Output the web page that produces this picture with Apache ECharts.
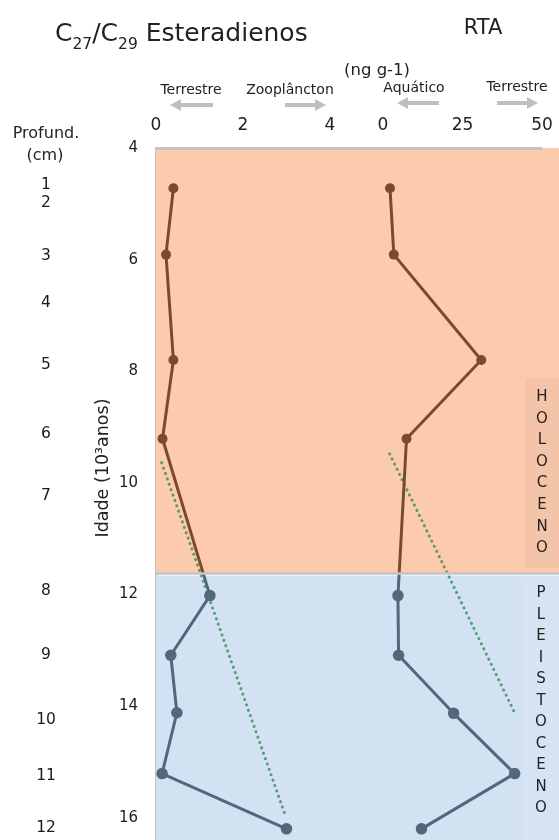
<!DOCTYPE html>
<html><head><meta charset="utf-8">
<script src="https://cdn.jsdelivr.net/npm/echarts@6/dist/echarts.min.js"></script>
<style>html,body{margin:0;padding:0;background:#fff}#c{width:559px;height:840px}</style>
</head><body><div id="c"></div>
<script>
// ---- data ----
const ageC27 = [4.72, 5.91, 7.80, 9.21, 12.02, 13.09, 14.12, 15.21, 16.20];
const ratioC27C29 = [0.40, 0.23, 0.40, 0.15, 1.24, 0.34, 0.48, 0.14, 3.00];
const ageRta = [4.72, 5.91, 7.80, 9.21, 12.02, 13.09, 14.13, 15.21, 16.20];
const rtaValues = [2.2, 3.4, 30.9, 7.4, 4.7, 4.9, 22.2, 41.4, 12.1];
const trendC27Age = [9.64, 15.91];
const trendC27Val = [0.13, 2.95];
const trendRtaAge = [9.48, 14.12];
const trendRtaVal = [2.1, 41.4];
const depthLabels = ['1','2','3','4','5','6','7','8','9','10','11','12'];
const depthAge = [4.67, 4.98, 5.94, 6.77, 7.88, 9.13, 10.24, 11.94, 13.09, 14.25, 15.25, 16.18];
const holoceneEnd = 11.62;
const epochLabels = ['HOLOCENO', 'PLEISTOCENO'];
const ratioTickStep = 2, rtaTickStep = 25, ageTickStep = 2;

// ---- style ----
const BROWN = '#7a4a2d', SLATE = '#55657a';
const ORANGE = '#fccbad', BLUE = '#d3e2f3';
const AX = '#c2c2c2';
const TXT = '#222';
const FONT = 'DejaVu Sans, sans-serif';
const AGE_MIN = 4, AGE_MAX = 16.4;

const pair = (xs, ys) => xs.map((v, i) => [v, ys[i]]);

function ageAxis(idx, show) {
  return {
    gridIndex: idx, type: 'value', inverse: true, min: AGE_MIN, max: AGE_MAX, interval: ageTickStep,
    show: show,
    axisLine: { show: show, lineStyle: { color: AX, width: 2 } },
    axisTick: { show: show, inside: true, length: 5, lineStyle: { color: '#cfcfcf' } },
    axisLabel: { show: show, margin: 18, color: TXT, fontSize: 15, fontFamily: FONT, showMaxLabel: false,
      formatter: v => (v % ageTickStep === 0 ? String(v) : '') },
    splitLine: { show: false }
  };
}
function topAxis(idx, min, max, step, showMax) {
  return {
    gridIndex: idx, type: 'value', position: 'top', min: min, max: max, interval: step,
    axisLine: { show: false },
    axisTick: { show: true, inside: true, length: 4, lineStyle: { color: AX, width: 1 } },
    axisLabel: { margin: 14, color: TXT, fontSize: 17, fontFamily: FONT, showMinLabel: true, showMaxLabel: showMax,
      formatter: v => (Math.abs(v % step) < 1e-9 ? String(v) : '') },
    splitLine: { show: false }
  };
}
function vertical(word) { return word.split('').join('\n'); }
function splitGradient(ages) {
  const lo = Math.min.apply(null, ages), hi = Math.max.apply(null, ages);
  const f = (holoceneEnd - lo) / (hi - lo);
  return new echarts.graphic.LinearGradient(0, 0, 0, 1, [
    { offset: 0, color: BROWN }, { offset: f, color: BROWN },
    { offset: f, color: SLATE }, { offset: 1, color: SLATE }
  ]);
}
const pointColor = p => (p.value[1] < holoceneEnd ? BROWN : SLATE);
const pointSize = v => (v[1] < holoceneEnd ? 10 : 11.5);

function arrow(tail, tip, y) {
  const dir = tip > tail ? 1 : -1;
  const hl = 11, hw = 6;
  return [
    { type: 'line', shape: { x1: tail, y1: y, x2: tip - dir * hl, y2: y }, style: { stroke: '#bfbfbf', lineWidth: 4 } },
    { type: 'polygon', shape: { points: [[tip, y], [tip - dir * hl, y - hw], [tip - dir * hl, y + hw]] }, style: { fill: '#bfbfbf' } }
  ];
}
function label(text, x, y, size) {
  return { type: 'text', x: x, y: y, style: { text: text, fill: TXT, fontSize: size, fontFamily: FONT,
    align: 'center', verticalAlign: 'middle' } };
}
const trendStyle = { color: 'rgba(40,135,80,0.75)', width: 3, type: [0.1, 5.6], cap: 'round' };

const chart = echarts.init(document.getElementById('c'), null, { renderer: 'canvas' });
chart.setOption({
  animation: false,
  backgroundColor: '#fff',
  grid: [
    { left: 156, right: 0, top: 148, bottom: 0 },      // background
    { left: 156, width: 174, top: 148, bottom: 0 },     // C27/C29
    { left: 383, right: 0, top: 148, bottom: 0 },       // RTA
    { left: 0, width: 92, top: 148, bottom: 0 }         // depth labels
  ],
  xAxis: [
    { gridIndex: 0, type: 'value', position: 'top', min: 0, max: 1,
      axisLine: { show: false }, axisTick: { show: false },
      axisLabel: { show: false }, splitLine: { show: false } },
    topAxis(1, 0, 4, ratioTickStep, true),
    topAxis(2, 0, 55.35, rtaTickStep, false),
    { gridIndex: 3, type: 'value', min: 0, max: 1, show: false }
  ],
  yAxis: [ageAxis(0, true), ageAxis(1, false), ageAxis(2, false), ageAxis(3, false)],
  series: [
    {
      type: 'line', xAxisIndex: 0, yAxisIndex: 0, data: [[0, AGE_MIN]], symbol: 'none', lineStyle: { opacity: 0 }, silent: true, z: 0,
      markArea: {
        silent: true,
        data: [
          [{ yAxis: AGE_MIN, itemStyle: { color: ORANGE } }, { yAxis: holoceneEnd }],
          [{ yAxis: holoceneEnd + 0.04, itemStyle: { color: BLUE } }, { yAxis: AGE_MAX }],
          [{ xAxis: 0.9156, yAxis: 8.12, itemStyle: { color: '#f4c4a8' },
             label: { show: true, position: 'inside', formatter: vertical(epochLabels[0]), color: TXT, fontSize: 15, lineHeight: 21.6, fontFamily: FONT } },
           { xAxis: 1, yAxis: 11.52 }],
          [{ xAxis: 0.9107, yAxis: holoceneEnd + 0.08, itemStyle: { color: '#d6e3f2' },
             label: { show: true, position: 'inside', offset: [0, -8], formatter: vertical(epochLabels[1]), color: TXT, fontSize: 15, lineHeight: 21.5, fontFamily: FONT } },
           { xAxis: 1, yAxis: AGE_MAX }]
        ]
      },
      markLine: {
        silent: true, symbol: 'none', label: { show: false },
        data: [
          { yAxis: holoceneEnd, lineStyle: { color: '#c4c4c4', type: 'solid', width: 2.5 } },
          [{ coord: [0, AGE_MIN], lineStyle: { color: AX, type: 'solid', width: 3 } }, { coord: [0.958, AGE_MIN] }]
        ]
      }
    },
    {
      type: 'line', xAxisIndex: 1, yAxisIndex: 1, data: pair(trendC27Val, trendC27Age), symbol: 'none', silent: true, z: 3,
      lineStyle: trendStyle
    },
    {
      type: 'line', xAxisIndex: 1, yAxisIndex: 1, data: pair(ratioC27C29, ageC27), symbol: 'circle', symbolSize: pointSize, z: 4,
      itemStyle: { color: pointColor },
      lineStyle: { width: 3, color: splitGradient(ageC27) }
    },
    {
      type: 'line', xAxisIndex: 2, yAxisIndex: 2, data: pair(trendRtaVal, trendRtaAge), symbol: 'none', silent: true, z: 3,
      lineStyle: trendStyle
    },
    {
      type: 'line', xAxisIndex: 2, yAxisIndex: 2, data: pair(rtaValues, ageRta), symbol: 'circle', symbolSize: pointSize, z: 4,
      itemStyle: { color: pointColor },
      lineStyle: { width: 3, color: splitGradient(ageRta) }
    },
    {
      type: 'scatter', xAxisIndex: 3, yAxisIndex: 3, data: depthAge.map(a => [0.5, a]), symbolSize: 2, silent: true,
      itemStyle: { color: 'rgba(0,0,0,0)' },
      label: { show: true, position: 'inside', opacity: 1, formatter: p => depthLabels[p.dataIndex], color: '#1a1a1a',
        textBorderWidth: 0, fontSize: 15.5, fontFamily: FONT }
    }
  ],
  graphic: [
    { type: 'text', x: 55, y: 22, style: {
        text: '{a|C}{b|27}{a|/C}{b|29}{a| Esteradienos}',
        rich: {
          a: { fontSize: 25, fontFamily: FONT, fill: TXT, verticalAlign: 'top', lineHeight: 30 },
          b: { fontSize: 15.5, fontFamily: FONT, fill: TXT, verticalAlign: 'top', lineHeight: 18, padding: [15, 0, 0, 0] }
        } } },
    label('RTA', 483, 29, 21),
    label('(ng g-1)', 377, 71, 16.5),
    label('Terrestre', 191, 90, 14),
    label('Zooplâncton', 290, 90, 14),
    label('Aquático', 414, 88, 14),
    label('Terrestre', 517, 87, 14),
    ...arrow(213, 170, 105),
    ...arrow(285, 326, 105),
    ...arrow(439, 397, 103),
    ...arrow(497, 538, 103),
    label('Profund.', 46, 134, 16),
    label('(cm)', 45, 156, 16),
    { type: 'text', x: 103, y: 468, rotation: Math.PI / 2, style: { text: 'Idade (10³anos)', fill: TXT, fontSize: 17.5, fontFamily: FONT,
        align: 'center', verticalAlign: 'middle' } }
  ]
});
</script></body></html>
